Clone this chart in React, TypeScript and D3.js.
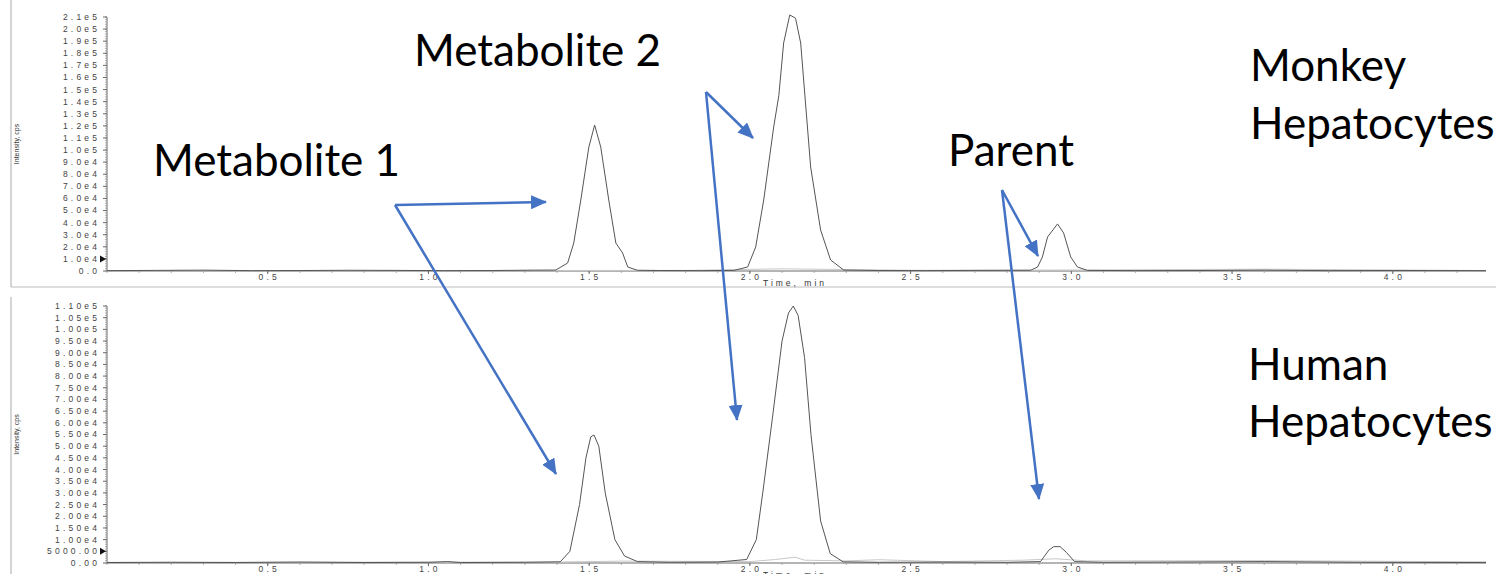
import React from 'react';
import * as d3 from 'd3';

// Monkey hepatocytes XIC: [time (min), intensity (cps)]
const MONKEY_TRACE: [number, number][] = [
  [0.0, 300], [0.15, 500], [0.3, 700], [0.45, 300], [0.6, 400], [0.75, 600], [0.9, 500], [1.05, 300],
  [1.2, 400], [1.33, 700], [1.396, 800], [1.433, 6600], [1.452, 23100], [1.474, 58700], [1.499, 102500],
  [1.517, 120700], [1.536, 102500], [1.561, 58700], [1.583, 23100], [1.604, 14900], [1.62, 3300],
  [1.65, 600], [1.72, 400], [1.85, 300], [1.95, 500], [1.993, 3300], [2.018, 19800], [2.043, 58700],
  [2.074, 119000], [2.09, 145000], [2.105, 188500], [2.124, 211700], [2.142, 209000], [2.158, 188500],
  [2.189, 86000], [2.22, 33900], [2.251, 9100], [2.292, 800], [2.4, 400], [2.55, 300], [2.7, 500],
  [2.873, 600], [2.895, 3300], [2.91, 11600], [2.926, 28100], [2.957, 38900], [2.976, 31400],
  [2.998, 11600], [3.019, 3300], [3.05, 500], [3.2, 300], [3.4, 400], [3.6, 700], [3.8, 300],
  [4.0, 400], [4.29, 300],
];

// Human hepatocytes XIC
const HUMAN_TRACE: [number, number][] = [
  [0.0, 200], [0.2, 300], [0.4, 200], [0.6, 400], [0.8, 200], [1.0, 300], [1.06, 600], [1.1, 200],
  [1.3, 300], [1.41, 500], [1.44, 5000], [1.47, 25000], [1.49, 45000], [1.505, 54000], [1.515, 54800],
  [1.53, 50000], [1.55, 30000], [1.58, 10000], [1.61, 3000], [1.65, 600], [1.75, 300], [1.9, 400],
  [1.99, 1500], [2.02, 10000], [2.04, 30000], [2.07, 62000], [2.1, 95000], [2.12, 107000],
  [2.135, 110000], [2.15, 106000], [2.17, 88000], [2.19, 55000], [2.22, 18000], [2.25, 4000],
  [2.29, 500], [2.4, 300], [2.6, 400], [2.8, 300], [2.904, 600], [2.93, 5500], [2.945, 7000],
  [2.965, 7000], [2.985, 4500], [3.01, 600], [3.1, 300], [3.3, 400], [3.6, 600], [3.9, 300], [4.29, 200],
];

// faint second trace sitting near the baseline
const HUMAN_FAINT: [number, number][] = [
  [0.0, 300], [1.4, 400], [1.6, 800], [2.0, 600], [2.08, 1500], [2.14, 2500], [2.17, 1200],
  [2.3, 900], [2.4, 1400], [2.6, 600], [2.85, 1200], [2.95, 1800], [3.05, 900], [3.6, 1000], [4.29, 500],
];
const MONKEY_FAINT: [number, number][] = [
  [0.0, 300], [1.8, 500], [2.1, 1800], [2.3, 1200], [2.5, 600], [3.0, 800], [3.6, 1500], [4.29, 400],
];

const TIME_TICKS = [0.5, 1.0, 1.5, 2.0, 2.5, 3.0, 3.5, 4.0];
const MONKEY_Y_LABELS = ['0.0', '1.0e4', '2.0e4', '3.0e4', '4.0e4', '5.0e4', '6.0e4', '7.0e4', '8.0e4', '9.0e4',
  '1.0e5', '1.1e5', '1.2e5', '1.3e5', '1.4e5', '1.5e5', '1.6e5', '1.7e5', '1.8e5', '1.9e5', '2.0e5', '2.1e5'];
const MONKEY_Y_STEP = 10000;
const HUMAN_Y_LABELS = ['0.00', '5000.00', '1.00e4', '1.50e4', '2.00e4', '2.50e4', '3.00e4', '3.50e4', '4.00e4',
  '4.50e4', '5.00e4', '5.50e4', '6.00e4', '6.50e4', '7.00e4', '7.50e4', '8.00e4', '8.50e4', '9.00e4', '9.50e4',
  '1.00e5', '1.05e5', '1.10e5'];
const HUMAN_Y_STEP = 5000;

const W = 1496, H = 574;
const BLUE = '#4472C4';
const AXIS = '#6a6a6a';
const TICKFONT = 'Liberation Sans, Arial, sans-serif';
const LABELFONT = 'Lato, "Open Sans", sans-serif';
const LS = 3.2; // the instrument software spaces its tick digits out

const x = d3.scaleLinear().domain([0, 4.29]).range([107, 1486]);

function Panel({ trace, faint, labels, step, yTop, yBottom, frameTop, frameBottom, marker }: any) {
  const max = step * (labels.length - 1);
  const y = d3.scaleLinear().domain([0, max]).range([yBottom, yTop]);
  const line = d3.line<[number, number]>().x(d => x(d[0])).y(d => y(d[1]));
  const minorY = d3.range(0, max + 1e-6, step / 5);
  const minorX = d3.range(0, 4.29, 0.1);
  const yl = (yTop + yBottom) / 2;
  return (
    <g>
      <line x1={11} x2={11} y1={frameTop} y2={frameBottom} stroke="#aaa" />
      <text transform={`translate(19,${yl}) rotate(-90)`} textAnchor="middle" fontFamily={TICKFONT}
        fontSize={7} fill="#333">Intensity, cps</text>
      {/* y axis */}
      <line x1={107} x2={107} y1={yTop} y2={yBottom} stroke={AXIS} />
      {minorY.map((v, i) => (
        <line key={'my' + i} x1={105} x2={107} y1={y(v)} y2={y(v)} stroke="#999" strokeWidth={0.8} />
      ))}
      {labels.map((l: string, i: number) => (
        <g key={'yl' + i}>
          <line x1={103} x2={107} y1={y(i * step)} y2={y(i * step)} stroke={AXIS} />
          <text x={97 + LS} y={y(i * step)} dy="0.35em" textAnchor="end" fontFamily={TICKFONT} fontSize={8.5}
            letterSpacing={LS} fill="#444">{l}</text>
        </g>
      ))}
      <path d={`M${100},${y(marker) - 3.5}L${106},${y(marker)}L${100},${y(marker) + 3.5}Z`} fill="#111" />
      {/* x axis */}
      <line x1={107} x2={1486} y1={yBottom} y2={yBottom} stroke={AXIS} />
      {minorX.map((v, i) => (
        <line key={'mx' + i} x1={x(v)} x2={x(v)} y1={yBottom} y2={yBottom + 2} stroke="#999" strokeWidth={0.8} />
      ))}
      {TIME_TICKS.map(t => (
        <g key={'xt' + t}>
          <line x1={x(t)} x2={x(t)} y1={yBottom} y2={yBottom + 3} stroke={AXIS} />
          <text x={x(t) + LS / 2} y={yBottom + 9} textAnchor="middle" fontFamily={TICKFONT} fontSize={8.5}
            letterSpacing={LS} fill="#444">{t.toFixed(1)}</text>
        </g>
      ))}
      <text x={795} y={yBottom + 15} textAnchor="middle" fontFamily={TICKFONT} fontSize={8.5}
        letterSpacing={3} fill="#333">Time, min</text>
      <path d={line(faint) || ''} fill="none" stroke="#c8c8c8" strokeWidth={1} />
      <path d={line(trace) || ''} fill="none" stroke="#555" strokeWidth={1} />
    </g>
  );
}

function Arrow({ x1, y1, x2, y2 }: any) {
  return <line x1={x1} y1={y1} x2={x2} y2={y2} stroke={BLUE} strokeWidth={2.5} markerEnd="url(#ah)" />;
}

export default function App() {
  const t = { fontFamily: LABELFONT, fontSize: 44, fill: '#000' } as any;
  return (
    <svg width={W} height={H} style={{ position: 'absolute', left: 0, top: 0, background: '#fff' }}>
      <defs>
        <marker id="ah" markerUnits="userSpaceOnUse" markerWidth={18} markerHeight={14} refX={15} refY={7}
          orient="auto">
          <path d="M0,0L16,7L0,14Z" fill={BLUE} />
        </marker>
      </defs>
      <rect width={W} height={H} fill="#fff" />
      <line x1={11} x2={W} y1={287} y2={287} stroke="#bbb" />
      <Panel trace={MONKEY_TRACE} faint={MONKEY_FAINT} labels={MONKEY_Y_LABELS} step={MONKEY_Y_STEP}
        yTop={17} yBottom={271} frameTop={0} frameBottom={287} marker={10000} />
      <Panel trace={HUMAN_TRACE} faint={HUMAN_FAINT} labels={HUMAN_Y_LABELS} step={HUMAN_Y_STEP}
        yTop={306} yBottom={563} frameTop={297} frameBottom={574} marker={5000} />

      <text x={414} y={66} {...t}>Metabolite 2</text>
      <text x={153} y={176} {...t}>Metabolite 1</text>
      <text x={948} y={166} {...t}>Parent</text>
      <text x={1250} y={81} {...t}>Monkey</text>
      <text x={1250} y={139} {...t}>Hepatocytes</text>
      <text x={1248} y={380} {...t}>Human</text>
      <text x={1248} y={437} {...t}>Hepatocytes</text>

      <Arrow x1={395} y1={205} x2={546} y2={202} />
      <Arrow x1={395} y1={205} x2={556} y2={474} />
      <Arrow x1={706} y1={92} x2={753} y2={138} />
      <Arrow x1={706} y1={92} x2={737} y2={420} />
      <Arrow x1={1002} y1={190} x2={1038} y2={256} />
      <Arrow x1={1002} y1={190} x2={1039} y2={499} />
    </svg>
  );
}
